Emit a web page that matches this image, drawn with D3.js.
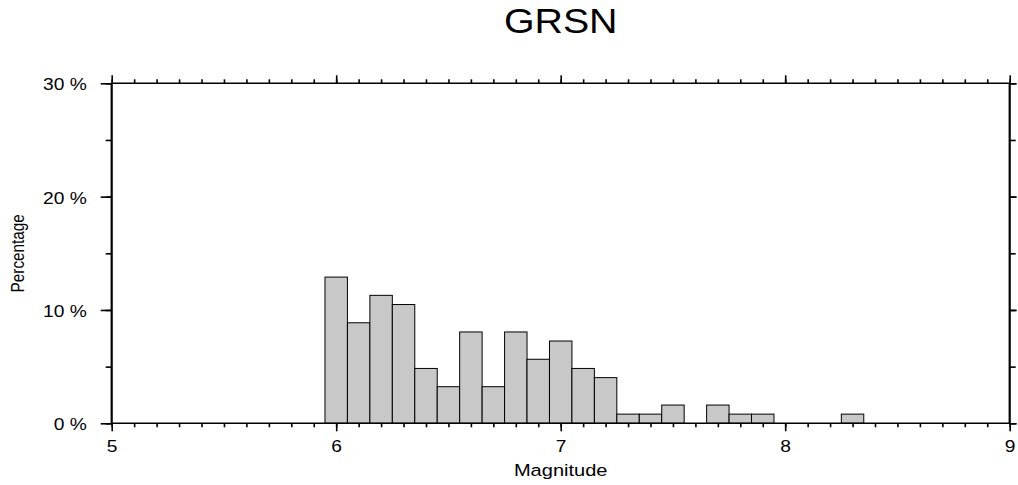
<!DOCTYPE html>
<html>
<head>
<meta charset="utf-8">
<script src="https://cdn.jsdelivr.net/npm/d3@7"></script>
<style>
  html, body { margin: 0; padding: 0; background: #fff; }
  svg { display: block; font-family: "Liberation Sans", Arial, Helvetica, sans-serif; }
</style>
</head>
<body>
<svg id="chart" width="1018" height="485"></svg>
<script>
// Magnitude bins (bin centres, width 0.1) and share of events per bin (%)
const binCenters = [6.0, 6.1, 6.2, 6.3, 6.4, 6.5, 6.6, 6.7, 6.8, 6.9, 7.0, 7.1, 7.2, 7.3, 7.4, 7.5, 7.6, 7.7, 7.8, 7.9, 8.0, 8.1, 8.2, 8.3];
const percentages = [12.90, 8.87, 11.29, 10.48, 4.84, 3.23, 8.06, 3.23, 8.06, 5.65, 7.26, 4.84, 4.03, 0.81, 0.81, 1.61, 0, 1.61, 0.81, 0.81, 0, 0, 0, 0.81];
const binWidth = 0.1;

const xTicks = [5, 6, 7, 8, 9];
const yTicks = [0, 10, 20, 30];
const yTickLabels = ["0 %", "10 %", "20 %", "30 %"];
const title = "GRSN";
const xTitle = "Magnitude";
const yTitle = "Percentage";

const svg = d3.select("#chart");
const plotLeft = 111.7, plotRight = 1009.7, plotTop = 83.3, plotBottom = 423.3;
// Glyphs are drawn wider than tall (wide lettering)
const stretch = 1.2;

const x = d3.scaleLinear().domain([5, 9]).range([plotLeft, plotRight]);
const y = d3.scaleLinear().domain([0, 30]).range([plotBottom, plotTop]);

// Bars
const bins = binCenters.map((c, i) => ({ c, v: percentages[i] })).filter(d => d.v > 0);
svg.append("g").selectAll("rect").data(bins).join("rect")
  .attr("x", d => x(d.c - binWidth / 2))
  .attr("width", d => x(d.c + binWidth / 2) - x(d.c - binWidth / 2))
  .attr("y", d => y(d.v))
  .attr("height", d => y(0) - y(d.v))
  .attr("fill", "#c8c8c8")
  .attr("stroke", "#000")
  .attr("stroke-width", 1);

// Axes (ticks point outward on all four sides)
const minorX = d3.range(50, 91).map(v => v / 10);
const minorY = d3.range(0, 31, 5);

const bottomAxis = d3.axisBottom(x).tickValues(xTicks).tickSize(8).tickFormat(d3.format("d")).tickPadding(9);
const bottomMinor = d3.axisBottom(x).tickValues(minorX).tickSize(4).tickFormat("");
const topAxis = d3.axisTop(x).tickValues(xTicks).tickSize(8).tickFormat("");
const topMinor = d3.axisTop(x).tickValues(minorX).tickSize(4).tickFormat("");
const leftAxis = d3.axisLeft(y).tickValues(yTicks).tickSize(11).tickPadding(14)
  .tickFormat((d, i) => yTickLabels[i]);
const leftMinor = d3.axisLeft(y).tickValues(minorY).tickSize(6).tickFormat("");
const rightAxis = d3.axisRight(y).tickValues(yTicks).tickSize(7).tickFormat("");
const rightMinor = d3.axisRight(y).tickValues(minorY).tickSize(6).tickFormat("");

function styleAxis(g) {
  g.select(".domain").remove();
  g.selectAll(".tick line").attr("stroke", "#000").attr("stroke-width", 1.6);
  g.attr("font-family", null);
  g.selectAll(".tick text")
    .attr("fill", "#000")
    .style("font-size", "16px")
    .attr("x", function () { return (+this.getAttribute("x") || 0) / stretch; })
    .attr("transform", `scale(${stretch},1)`);
}

svg.append("g").attr("transform", `translate(0,${plotBottom})`).call(bottomMinor).call(styleAxis);
svg.append("g").attr("transform", `translate(0,${plotBottom})`).call(bottomAxis).call(styleAxis);
svg.append("g").attr("transform", `translate(0,${plotTop})`).call(topMinor).call(styleAxis);
svg.append("g").attr("transform", `translate(0,${plotTop})`).call(topAxis).call(styleAxis);
svg.append("g").attr("transform", `translate(${plotLeft},0)`).call(leftMinor).call(styleAxis);
svg.append("g").attr("transform", `translate(${plotLeft},0)`).call(leftAxis).call(styleAxis)
  .selectAll(".tick text").attr("dy", "0.4em");
svg.append("g").attr("transform", `translate(${plotRight},0)`).call(rightMinor).call(styleAxis);
svg.append("g").attr("transform", `translate(${plotRight},0)`).call(rightAxis).call(styleAxis);

// Frame: thin top/bottom, heavier left/right
svg.append("line").attr("x1", plotLeft).attr("x2", plotRight).attr("y1", plotTop).attr("y2", plotTop)
  .attr("stroke", "#000").attr("stroke-width", 1.4);
svg.append("line").attr("x1", plotLeft).attr("x2", plotRight).attr("y1", plotBottom).attr("y2", plotBottom)
  .attr("stroke", "#000").attr("stroke-width", 1.4);
svg.append("line").attr("x1", plotLeft).attr("x2", plotLeft).attr("y1", plotTop).attr("y2", plotBottom)
  .attr("stroke", "#000").attr("stroke-width", 2.2);
svg.append("line").attr("x1", plotRight).attr("x2", plotRight).attr("y1", plotTop).attr("y2", plotBottom)
  .attr("stroke", "#000").attr("stroke-width", 2.2);

// Titles
const cx = (plotLeft + plotRight) / 2;
svg.append("text").attr("transform", `translate(${cx},33.3) scale(1.14,1)`)
  .attr("text-anchor", "middle").style("font-size", "34.5px").text(title);
svg.append("text").attr("transform", `translate(${cx},475.7) scale(1.18,1)`)
  .attr("text-anchor", "middle").style("font-size", "17px").text(xTitle);
svg.append("text").attr("transform", `translate(24,${(plotTop + plotBottom) / 2}) rotate(-90) scale(1,1.19)`)
  .attr("text-anchor", "middle").style("font-size", "15.3px").text(yTitle);
</script>
</body>
</html>
